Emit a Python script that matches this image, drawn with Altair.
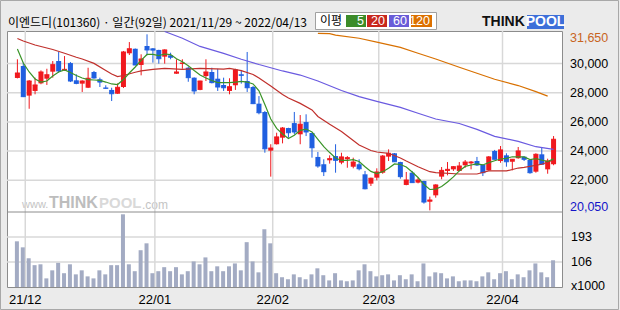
import altair as alt
import pandas as pd

# ---------------- data ----------------
title_text = "이엔드디(101360) · 일간(92일) 2021/11/29 ~ 2022/04/13"
month_labels = ["21/12", "22/01", "22/02", "22/03", "22/04"]
month_first_idx = [2, 24, 44, 62, 83]
price_ticks = [30000, 28000, 26000, 24000, 22000]
price_max_label = 31650
price_min_label = 20050
vol_ticks = [193, 106]
vol_base = 19
ma_legend = ["5", "20", "60", "120"]

open_ = [29010, 29830, 27800, 28120, 28640, 28960, 29440, 30170, 29530, 30030,
         28850, 28620, 28340, 29420, 28920, 28350, 28190, 27930, 28390, 30700,
         31010, 29900, 31200, 31040, 30930, 30470, 30560, 29300, 29970, 29710,
         29030, 28190, 29140, 29420, 28960, 28530, 28120, 28510, 29260, 28800,
         28390, 27250, 26680, 24030, 24470, 24920, 25580, 25920, 25150, 25990,
         25240, 23600, 23100, 23370, 23660, 23210, 23440, 22930, 23100, 22410,
         21770, 22180, 22520, 23620, 23850, 23250, 21680, 22520, 21840, 21950,
         20530, 20970, 22250, 22640, 22750, 22640, 23030, 23160, 23320, 23050,
         22680, 24010, 23320, 23710, 23270, 23510, 23620, 23390, 22590, 23780,
         22750, 23100]
high = [30290, 30070, 28870, 29030, 29530, 29640, 30170, 30790, 30510, 30100,
        29260, 28850, 29710, 29490, 29030, 28510, 28340, 28640, 30860, 31470,
        31030, 30630, 32000, 31060, 30940, 30970, 30740, 30290, 30290, 29780,
        29050, 28820, 30290, 29710, 29640, 29030, 28990, 29640, 29560, 30790,
        28460, 27770, 26750, 24470, 25260, 25650, 25600, 26680, 26470, 26520,
        25260, 23940, 23440, 23710, 24470, 23890, 23660, 23550, 23440, 22640,
        22180, 22820, 23730, 24120, 23870, 23270, 22570, 22640, 22180, 21970,
        20880, 21730, 22910, 23250, 22980, 23250, 23390, 23320, 23600, 23100,
        23660, 24080, 24350, 23850, 23450, 24280, 23630, 23400, 23850, 24230,
        23480, 25030]
low = [28980, 27700, 26900, 27890, 28580, 28530, 29030, 29370, 29500, 28730,
       28580, 28050, 28320, 28960, 28390, 28270, 27430, 27920, 28320, 30580,
       29880, 29190, 30560, 30060, 29990, 29990, 30290, 29290, 29640, 28750,
       27890, 28170, 28800, 28640, 28120, 28120, 27890, 28190, 28620, 28050,
       27220, 26520, 23890, 22250, 24450, 24530, 24920, 25150, 24470, 25030,
       23550, 22860, 22290, 23140, 22520, 23100, 22860, 22820, 22680, 21380,
       21610, 22000, 22450, 23320, 23260, 22110, 21660, 21820, 21790, 20400,
       19940, 20810, 22070, 22340, 22640, 22630, 22860, 22750, 22980, 22290,
       22670, 23430, 23200, 22930, 22680, 23480, 23320, 22450, 22520, 23090,
       22450, 23030]
close = [29350, 27730, 28800, 28530, 29420, 29230, 29920, 29490, 29600, 28800,
         28640, 28800, 28990, 29010, 28730, 28300, 27930, 28370, 30790, 31010,
         29900, 30310, 30930, 30920, 30330, 30930, 30430, 29420, 30030, 29030,
         28120, 28800, 29420, 28690, 28390, 28340, 28410, 29560, 29190, 28340,
         27250, 26630, 24160, 24210, 24970, 25580, 25260, 25310, 25840, 25310,
         24230, 22980, 22590, 23480, 23370, 23600, 23550, 23250, 22790, 21420,
         22140, 22570, 23660, 23850, 23270, 22250, 22020, 21840, 22020, 20510,
         20650, 21680, 22680, 22750, 22930, 22980, 23250, 23250, 23050, 22520,
         23600, 23440, 24080, 23270, 23440, 24010, 23440, 22520, 23780, 23100,
         23320, 24810]
volume = [178, 157, 119, 95, 98, 49, 77, 103, 67, 98,
          63, 77, 56, 49, 77, 63, 95, 95, 272, 98,
          74, 147, 171, 67, 74, 88, 74, 88, 63, 74,
          108, 98, 122, 74, 91, 74, 91, 101, 77, 175,
          108, 70, 220, 171, 67, 53, 46, 63, 53, 46,
          63, 84, 60, 42, 67, 42, 39, 42, 77, 98,
          74, 56, 60, 63, 42, 60, 46, 63, 39, 101,
          56, 70, 67, 49, 56, 39, 42, 42, 39, 56,
          70, 46, 67, 74, 46, 63, 53, 77, 101, 70,
          53, 112]
ma5 = [30990, 30030, 29420, 28940, 28730, 28800, 29140, 29420, 29560, 29380,
       29180, 29010, 28900, 28870, 28840, 28730, 28600, 28560, 28900, 29350,
       29760, 30210, 30620, 30630, 30540, 30650, 30610, 30320, 30120, 29850,
       29520, 29210, 29010, 28840, 28690, 28700, 28690, 28720, 28770, 28730,
       28600, 28130, 27190, 26200, 25560, 25170, 24860, 25090, 25420, 25510,
       25310, 24810, 24300, 23900, 23530, 23360, 23360, 23420, 23290, 22930,
       22610, 22460, 22590, 22830, 23120, 23080, 22910, 22570, 22190, 21710,
       21370, 21400, 21580, 21880, 22230, 22640, 22950, 23050, 23120, 23050,
       23210, 23340, 23460, 23500, 23610, 23600, 23600, 23420, 23490, 23380,
       23290, 23470]
ma20_idx = [0, 1, 3, 5, 6, 8, 10, 11, 13, 15, 16, 17, 18, 20, 21, 23, 25, 28, 31, 35,
            36, 38, 40, 41, 43, 45, 46, 48, 50, 51, 53, 55, 56, 58, 60, 61, 63, 65, 66,
            68, 70, 71, 75, 78, 80, 83, 85, 86, 89, 91]
ma20_val = [31710, 31540, 31270, 31060, 30960, 30700, 30430, 30310, 30010, 29520,
            29280, 29100, 29180, 29400, 29490, 29600, 29670, 29600, 29670, 29620,
            29670, 29510, 29250, 29010, 28460, 27880, 27640, 27270, 26820, 26370,
            25840, 25340, 25030, 24420, 24040, 23940, 23850, 23530, 23320,
            22930, 22590, 22530, 22430, 22430, 22640, 22640, 22840, 22890, 23100, 23390]
ma60_idx = [25, 28, 31, 35, 38, 41, 45, 48, 51, 55, 58, 61, 65, 68, 71, 75, 78, 81, 85, 88, 91]
ma60_val = [32190, 31730, 31170, 30690, 30290, 29930, 29490, 29210, 28800, 28150, 27730,
            27410, 26990, 26590, 26200, 25890, 25490, 25010, 24670, 24300, 24120]
ma120_idx = [51, 53, 54, 58, 61, 65, 68, 71, 75, 78, 81, 85, 88, 90]
ma120_val = [32070, 32050, 31950, 31730, 31470, 31100, 30700, 30310, 29740, 29330,
             28920, 28490, 28070, 27770]

# ---------------- style ----------------
RED, BLUE = "#f0191e", "#1f5fe0"
C_MA5, C_MA20, C_MA60, C_MA120 = "#3a9428", "#c0302c", "#6a5ae0", "#d87000"
LEG_COLORS = ["#3c8c2a", "#c8281e", "#6a5cd8", "#dc7000"]
GRID = "#d8d8d8"
FRAME = "#8c8c8c"
VOLC = "#a3abc3"
NUMFONT = "Liberation Sans"
KFONT = "Noto Sans CJK KR"

W, H = 555, 256
x_scale = alt.Scale(domain=[-0.9167, 91.5833], range=[0, W], nice=False, zero=False)
p_scale = alt.Scale(domain=[19828, 32227], range=[181, 0], nice=False, zero=False)
v_scale = alt.Scale(domain=[19, 280], range=[256, 181], nice=False, zero=False)

df = pd.DataFrame({"i": list(range(len(open_))), "open": open_, "high": high,
                   "low": low, "close": close, "vol": volume, "ma5": ma5})
dummy = pd.DataFrame({"a": [0]})

X = alt.X("i:Q", scale=x_scale, axis=None)
layers = []


def txt(s, x, y, size=12, color="black", font=NUMFONT, align="left", weight="normal",
        baseline="middle"):
    return alt.Chart(dummy).mark_text(
        text=s, fontSize=size, color=color, font=font, align=align,
        baseline=baseline, fontWeight=weight
    ).encode(x=alt.value(x), y=alt.value(y))


# watermark
layers.append(txt("www.", 15, 174, size=11, color="#c4c4c4"))
layers.append(txt("THINK", 42, 172, size=16, color="#bdbdbd", weight="bold"))
layers.append(txt("POOL", 92, 172, size=15, color="#d9d9d9", weight="bold"))
layers.append(txt(".com", 135, 174, size=12, color="#c4c4c4"))

# grid lines
ptick_df = pd.DataFrame({"v": price_ticks})
layers.append(alt.Chart(ptick_df).mark_rule(color=GRID, strokeWidth=1.5).encode(
    y=alt.Y("v:Q", scale=p_scale, axis=None), x=alt.value(0), x2=alt.value(W)))
vtick_df = pd.DataFrame({"v": vol_ticks})
layers.append(alt.Chart(vtick_df).mark_rule(color=GRID, strokeWidth=1.5).encode(
    y=alt.Y("v:Q", scale=v_scale, axis=None), x=alt.value(0), x2=alt.value(W)))
month_df = pd.DataFrame({"m": month_first_idx, "lab": month_labels})
layers.append(alt.Chart(month_df).transform_calculate(pos="datum.m - 0.6667").mark_rule(
    color=GRID, strokeWidth=1.5).encode(
    x=alt.X("pos:Q", scale=x_scale, axis=None), y=alt.value(0), y2=alt.value(H)))
# separator between panes
layers.append(alt.Chart(dummy).mark_rule(color=FRAME, strokeWidth=1).encode(
    x=alt.value(0), x2=alt.value(W), y=alt.value(181)))

# volume bars
layers.append(alt.Chart(df).mark_bar(size=4, color=VOLC, xOffset=-0.5).encode(
    x=X, y=alt.Y("vol:Q", scale=v_scale, axis=None), y2=alt.datum(vol_base)))

# candles
cbase = alt.Chart(df).transform_calculate(
    dirn="datum.close >= datum.open ? 'up' : 'down'",
    xl="datum.i - 0.4167", xr="datum.i + 0.4167")
ccolor = alt.Color("dirn:N", scale=alt.Scale(domain=["up", "down"], range=[RED, BLUE]),
                   legend=None)
layers.append(cbase.mark_rule(strokeWidth=1).encode(
    x=X, y=alt.Y("low:Q", scale=p_scale, axis=None), y2="high:Q", color=ccolor))
layers.append(cbase.mark_bar(size=5).encode(
    x=X, y=alt.Y("open:Q", scale=p_scale, axis=None), y2="close:Q", color=ccolor))
layers.append(cbase.mark_rule(strokeWidth=1).encode(
    x=alt.X("xl:Q", scale=x_scale, axis=None), x2="xr:Q",
    y=alt.Y("close:Q", scale=p_scale, axis=None), color=ccolor))

# moving averages
for idxs, vals, col in [(ma120_idx, ma120_val, C_MA120), (ma60_idx, ma60_val, C_MA60),
                        (ma20_idx, ma20_val, C_MA20)]:
    mdf = pd.DataFrame({"i": idxs, "v": vals})
    layers.append(alt.Chart(mdf).mark_line(color=col, strokeWidth=1.2).encode(
        x=X, y=alt.Y("v:Q", scale=p_scale, axis=None)))
layers.append(alt.Chart(df).mark_line(color=C_MA5, strokeWidth=1.2).encode(
    x=X, y=alt.Y("ma5:Q", scale=p_scale, axis=None)))

# right-side price labels
layers.append(alt.Chart(ptick_df).mark_text(
    align="left", baseline="middle", font=NUMFONT, fontSize=12.5, color="black").encode(
    x=alt.value(563), y=alt.Y("v:Q", scale=p_scale, axis=None),
    text=alt.Text("v:Q", format=",")))
ext_df = pd.DataFrame({"v": [price_max_label], "c": ["max"]})
layers.append(alt.Chart(ext_df).mark_text(
    align="left", baseline="middle", font=NUMFONT, fontSize=12.5, color="#c8641e", dy=-1.5).encode(
    x=alt.value(563), y=alt.Y("v:Q", scale=p_scale, axis=None),
    text=alt.Text("v:Q", format=",")))
ext_df2 = pd.DataFrame({"v": [price_min_label]})
layers.append(alt.Chart(ext_df2).mark_text(
    align="left", baseline="middle", font=NUMFONT, fontSize=12.5, color="#1414c8", dy=-2).encode(
    x=alt.value(563), y=alt.Y("v:Q", scale=p_scale, axis=None),
    text=alt.Text("v:Q", format=",")))
# volume labels
layers.append(alt.Chart(vtick_df).mark_text(
    align="left", baseline="middle", font=NUMFONT, fontSize=12.5, color="black").encode(
    x=alt.value(564), y=alt.Y("v:Q", scale=v_scale, axis=None), text=alt.Text("v:Q")))
layers.append(txt("x1000", 564, 255, size=12.5))

# month labels
layers.append(alt.Chart(month_df).transform_calculate(pos="datum.m - 0.6667").mark_text(
    align="center", baseline="middle", font=NUMFONT, fontSize=13, color="black").encode(
    x=alt.X("pos:Q", scale=x_scale, axis=None), y=alt.value(269), text="lab:N"))

# title
layers.append(txt(title_text, 1, -8.5, size=12, font=KFONT))

# legend box
layers.append(alt.Chart(dummy).mark_rect(fill="white", stroke="#a0a0a0", strokeWidth=1).encode(
    x=alt.value(308.5), x2=alt.value(429.5), y=alt.value(-18.5), y2=alt.value(-1.5)))
layers.append(txt("이평", 313, -10, size=12, font=KFONT))
leg_x = [(339, 359), (360, 380), (382, 402), (404, 425)]
for (x0, x1), lab, col in zip(leg_x, ma_legend, LEG_COLORS):
    layers.append(alt.Chart(dummy).mark_rect(fill=col).encode(
        x=alt.value(x0), x2=alt.value(x1), y=alt.value(-16), y2=alt.value(-4)))
    layers.append(txt(lab, x1 - 2, -10, size=12.5, color="white", align="right"))

# THINKPOOL logo
layers.append(txt("THINK", 475, -9.5, size=14, weight="bold", color="#111111"))
layers.append(alt.Chart(dummy).mark_rect(fill="#3d6fd9").encode(
    x=alt.value(520), x2=alt.value(557), y=alt.value(-16), y2=alt.value(-2)))
layers.append(txt("POOL", 538.5, -9, size=14, weight="bold", color="white", align="center"))

# outer frame
layers.append(alt.Chart(dummy).mark_rect(fillOpacity=0, stroke="#a8a8a8", strokeWidth=1).encode(
    x=alt.value(-6.5), x2=alt.value(611.5), y=alt.value(-30.5), y2=alt.value(278.5)))

chart = alt.layer(*layers).resolve_scale(y="independent", color="independent").properties(
    width=W, height=H,
    autosize=alt.AutoSizeParams(type="none"),
    padding={"left": 7, "top": 31, "right": 58, "bottom": 23},
    background="#ebebeb",
).configure_view(fill="white", stroke=FRAME, strokeWidth=1)

chart.save("out.html", embed_options={"renderer": "svg", "actions": False})
